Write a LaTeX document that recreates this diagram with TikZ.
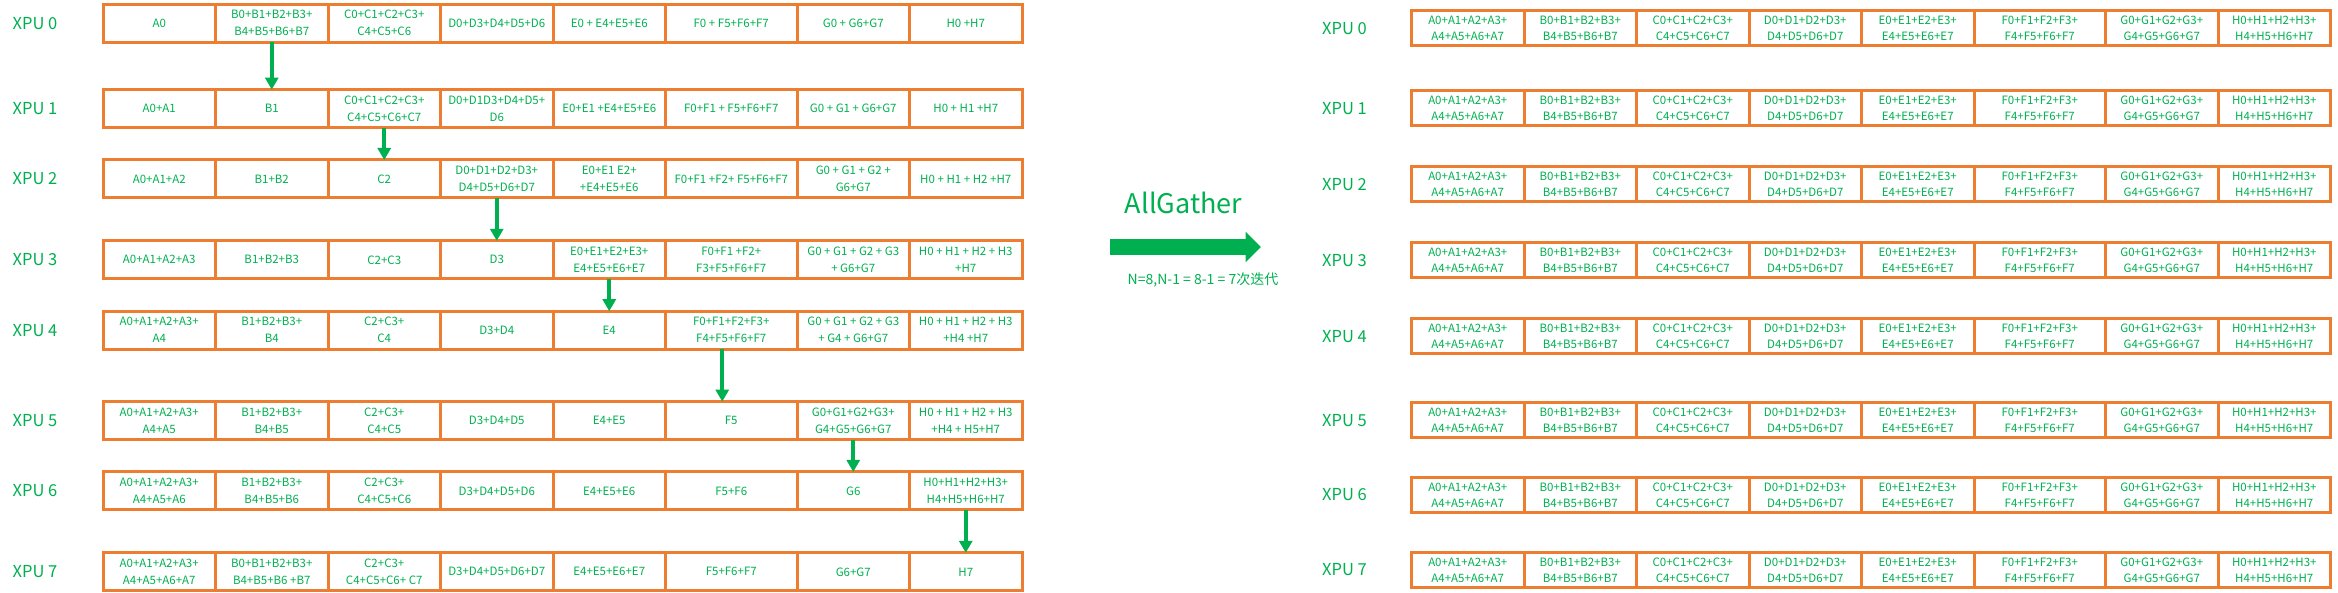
\documentclass[tikz,border=0pt]{standalone}
\usepackage{fontspec}
\setmainfont{Noto Sans CJK SC}
\usepackage{xcolor}
\usetikzlibrary{arrows.meta,calc}
\definecolor{xorange}{HTML}{ED7D31}
\definecolor{xgreen}{HTML}{00B050}
% one row of eight cells: [style] prefix, left x, centre y, texts
\newcommand{\xpurow}[5][]{%
  \foreach \txt [count=\c from 0] in {#5}{%
    \node[cell,#1,minimum width={112.5pt+19pt*(\c==5)}] (#2\c)
      at ({#3+56.25+112.5*\c+9.5*(\c>4)+9.5*(\c>5)},#4) {\txt};
  }%
}

\begin{document}
\begin{tikzpicture}[x=1pt,y=-1pt,
  cell/.style={draw=xorange,line width=3pt,inner sep=0pt,outer sep=0pt,
    minimum height=38pt,align=center,text=xgreen,
    font=\fontsize{11.5}{17}\selectfont},
  rcell/.style={minimum height=35pt,font=\fontsize{11.5}{16}\selectfont},
  xpu/.style={text=xgreen,font=\fontsize{16.5}{20}\selectfont},
  pass/.style={xgreen,line width=4pt,-{Triangle[width=13pt,length=12pt]}},
  bigarrow/.style={xgreen,line width=16pt,-{Triangle[width=30pt,length=15.5pt]}}]
%  XPU r : | A | B | C | D | E | F | G | H |      ===>      | A..H all gathered |
%            cell r+1 of row r is passed down to row r+1

	\useasboundingbox (0,0) rectangle (2338,593);

	% left: state after reduce-scatter, passed on step by step
	\foreach \r/\y in {0/23.25,1/108.6,2/179,3/259.8,4/330.2,5/420.6,6/490.9,7/571.8}
		\node[xpu] (lx\r) at (35,\y) {XPU \r};

	\xpurow{L0}{103}{23.25}{{A0},{B0+B1+B2+B3+\\B4+B5+B6+B7},{C0+C1+C2+C3+\\C4+C5+C6},
		{D0+D3+D4+D5+D6},{E0 + E4+E5+E6},{F0 + F5+F6+F7},{G0 + G6+G7},{H0 +H7}}
	\xpurow{L1}{103}{108.6}{{A0+A1},{B1},{C0+C1+C2+C3+\\C4+C5+C6+C7},{D0+D1D3+D4+D5+\\D6},
		{E0+E1 +E4+E5+E6},{F0+F1 + F5+F6+F7},{G0 + G1 + G6+G7},{H0 + H1 +H7}}
	\xpurow{L2}{103}{179}{{A0+A1+A2},{B1+B2},{C2},{D0+D1+D2+D3+\\D4+D5+D6+D7},{E0+E1 E2+\\+E4+E5+E6},
		{F0+F1 +F2+ F5+F6+F7},{G0 + G1 + G2 +\\G6+G7},{H0 + H1 + H2 +H7}}
	\xpurow{L3}{103}{259.8}{{A0+A1+A2+A3},{B1+B2+B3},{C2+C3},{D3},{E0+E1+E2+E3+\\E4+E5+E6+E7},
		{F0+F1 +F2+\\F3+F5+F6+F7},{G0 + G1 + G2 + G3\\+ G6+G7},{H0 + H1 + H2 + H3\\+H7}}
	\xpurow{L4}{103}{330.2}{{A0+A1+A2+A3+\\A4},{B1+B2+B3+\\B4},{C2+C3+\\C4},{D3+D4},{E4},
		{F0+F1+F2+F3+\\F4+F5+F6+F7},{G0 + G1 + G2 + G3\\+ G4 + G6+G7},{H0 + H1 + H2 + H3\\+H4 +H7}}
	\xpurow{L5}{103}{420.6}{{A0+A1+A2+A3+\\A4+A5},{B1+B2+B3+\\B4+B5},{C2+C3+\\C4+C5},{D3+D4+D5},
		{E4+E5},{F5},{G0+G1+G2+G3+\\G4+G5+G6+G7},{H0 + H1 + H2 + H3\\+H4 + H5+H7}}
	\xpurow{L6}{103}{490.9}{{A0+A1+A2+A3+\\A4+A5+A6},{B1+B2+B3+\\B4+B5+B6},{C2+C3+\\C4+C5+C6},
		{D3+D4+D5+D6},{E4+E5+E6},{F5+F6},{G6},{H0+H1+H2+H3+\\H4+H5+H6+H7}}
	\xpurow{L7}{103}{571.8}{{A0+A1+A2+A3+\\A4+A5+A6+A7},{B0+B1+B2+B3+\\B4+B5+B6 +B7},
		{C2+C3+\\C4+C5+C6+ C7},{D3+D4+D5+D6+D7},{E4+E5+E6+E7},{F5+F6+F7},{G6+G7},{H7}}

	\draw[pass] (L01.south) -- (L11.north);
	\draw[pass] (L12.south) -- (L22.north);
	\draw[pass] (L23.south) -- (L33.north);
	\draw[pass] (L34.south) -- (L44.north);
	\draw[pass] ([xshift=-9pt]L45.south) -- ([xshift=-9pt]L55.north);
	\draw[pass] (L56.south) -- (L66.north);
	\draw[pass] (L67.south) -- (L77.north);

	% middle
	\coordinate (ga) at (1110,247); \coordinate (gb) at (1261,247);
	\draw[bigarrow] (ga)--(gb);
	\node[text=xgreen,font=\fontsize{27}{32}\selectfont,anchor=base] (ag) at (1183.5,214) {AllGather};
	\node[text=xgreen,font=\fontsize{14}{17}\selectfont] (iter) at (1203,280) {N=8,N-1 = 8-1 = 7次迭代};

	% right: every XPU holds all sums
	\foreach \r/\y in {0/28.5,1/108.5,2/184.5,3/260.5,4/336.5,5/420.3,6/495,7/570}{
		\node[xpu] (rx\r) at (1344.5,\y) {XPU \r};
		\xpurow[rcell]{R\r}{1411.5}{\y}{{A0+A1+A2+A3+\\A4+A5+A6+A7},{B0+B1+B2+B3+\\B4+B5+B6+B7},
			{C0+C1+C2+C3+\\C4+C5+C6+C7},{D0+D1+D2+D3+\\D4+D5+D6+D7},{E0+E1+E2+E3+\\E4+E5+E6+E7},
			{F0+F1+F2+F3+\\F4+F5+F6+F7},{G0+G1+G2+G3+\\G4+G5+G6+G7},{H0+H1+H2+H3+\\H4+H5+H6+H7}}
	}

\end{tikzpicture}
\end{document}
